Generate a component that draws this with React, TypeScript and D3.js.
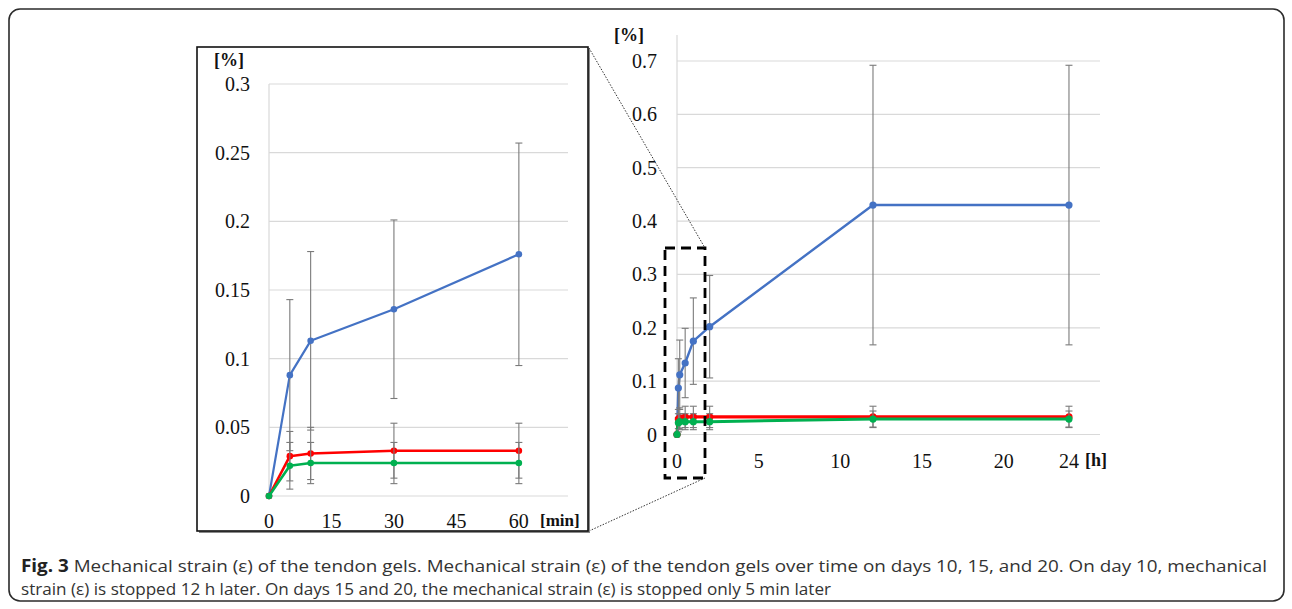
import React from "react";
import * as d3 from "d3";

// ---------- data ----------
const minutes = [0, 5, 10, 30, 60];
const blueMin = [0, 0.088, 0.113, 0.136, 0.176];
const blueMinErr = [0, 0.055, 0.065, 0.065, 0.081];
const redMin = [0, 0.029, 0.031, 0.033, 0.033];
const redMinErr = [0, 0.018, 0.019, 0.02, 0.02];
const greenMin = [0, 0.022, 0.024, 0.024, 0.024];
const greenMinErr = [0, 0.017, 0.015, 0.015, 0.015];

const hours = [0, 0.083, 0.167, 0.5, 1, 2, 12, 24];
const blueH = [0, 0.087, 0.112, 0.134, 0.175, 0.202, 0.43, 0.43];
const blueHErr = [0, 0.055, 0.065, 0.065, 0.081, 0.096, 0.262, 0.262];
const redH = [0, 0.029, 0.031, 0.033, 0.033, 0.033, 0.033, 0.033];
const redHErr = [0, 0.018, 0.019, 0.02, 0.02, 0.02, 0.02, 0.02];
const greenH = [0, 0.022, 0.024, 0.024, 0.024, 0.024, 0.029, 0.029];
const greenHErr = [0, 0.017, 0.015, 0.015, 0.015, 0.015, 0.015, 0.015];

const leftYTicks = [0, 0.05, 0.1, 0.15, 0.2, 0.25, 0.3];
const leftYLabels = ["0", "0.05", "0.1", "0.15", "0.2", "0.25", "0.3"];
const leftXTicks = [0, 15, 30, 45, 60];
const rightYTicks = [0, 0.1, 0.2, 0.3, 0.4, 0.5, 0.6, 0.7];
const rightYLabels = ["0", "0.1", "0.2", "0.3", "0.4", "0.5", "0.6", "0.7"];
const rightXTicks = [0, 5, 10, 15, 20, 24];

const captionBold = "Fig. 3";
const captionLine1 =
  " Mechanical strain (ε) of the tendon gels. Mechanical strain (ε) of the tendon gels over time on days 10, 15, and 20. On day 10, mechanical";
const captionLine2 =
  "strain (ε) is stopped 12 h later. On days 15 and 20, the mechanical strain (ε) is stopped only 5 min later";

const BLUE = "#4472C4";
const RED = "#FF0000";
const GREEN = "#00B050";
const ERR = "#7a7a7a";
const GRID = "#d9d9d9";
const SERIF = "'Liberation Serif', 'Times New Roman', serif";

type Series = { vals: number[]; errs: number[]; color: string; width: number };

function Chart({
  xs,
  series,
  x,
  y,
  r,
}: {
  xs: number[];
  series: Series[];
  x: d3.ScaleLinear<number, number>;
  y: d3.ScaleLinear<number, number>;
  r: number;
}) {
  const cap = 3.5;
  return (
    <g>
      {series.map((s, si) => {
        const line = d3
          .line<number>()
          .x((_, i) => x(xs[i]))
          .y((v) => y(v));
        return (
          <g key={si}>
            <path d={line(s.vals) || ""} fill="none" stroke={s.color} strokeWidth={s.width} strokeLinejoin="round" />
            {s.vals.map((v, i) =>
              s.errs[i] > 0 ? (
                <g key={i} stroke={ERR} strokeWidth={1.1}>
                  <line x1={x(xs[i])} x2={x(xs[i])} y1={y(v + s.errs[i])} y2={y(v - s.errs[i])} />
                  <line x1={x(xs[i]) - cap} x2={x(xs[i]) + cap} y1={y(v + s.errs[i])} y2={y(v + s.errs[i])} />
                  <line x1={x(xs[i]) - cap} x2={x(xs[i]) + cap} y1={y(v - s.errs[i])} y2={y(v - s.errs[i])} />
                </g>
              ) : null
            )}
            {s.vals.map((v, i) => (
              <circle key={"c" + i} cx={x(xs[i])} cy={y(v)} r={r} fill={s.color} />
            ))}
          </g>
        );
      })}
    </g>
  );
}

export default function App() {
  // left (zoomed) chart
  const xL = d3.scaleLinear().domain([0, 71.8]).range([269, 568]);
  const yL = d3.scaleLinear().domain([0, 0.3]).range([496, 84]);
  // right chart
  const xR = d3.scaleLinear().domain([0, 25.9]).range([677, 1100]);
  const yR = d3.scaleLinear().domain([0, 0.7]).range([434.5, 61]);

  const leftSeries: Series[] = [
    { vals: blueMin, errs: blueMinErr, color: BLUE, width: 2.2 },
    { vals: redMin, errs: redMinErr, color: RED, width: 2.6 },
    { vals: greenMin, errs: greenMinErr, color: GREEN, width: 2.6 },
  ];
  const rightSeries: Series[] = [
    { vals: blueH, errs: blueHErr, color: BLUE, width: 2.4 },
    { vals: redH, errs: redHErr, color: RED, width: 3.2 },
    { vals: greenH, errs: greenHErr, color: GREEN, width: 3 },
  ];

  return (
    <svg
      width={1292}
      height={609}
      viewBox="0 0 1292 609"
      style={{ position: "absolute", left: 0, top: 0, background: "#fff" }}
    >
      <rect x={0} y={0} width={1292} height={609} fill="#fff" />
      {/* outer figure frame */}
      <rect x={9} y={9} width={1275} height={592} rx={11} ry={11} fill="none" stroke="#2b2b2b" strokeWidth={1.6} />

      {/* ---------- right chart ---------- */}
      <g>
        {rightYTicks.map((t, i) => (
          <g key={i}>
            <line x1={xR(0)} x2={xR.range()[1]} y1={yR(t)} y2={yR(t)} stroke={GRID} strokeWidth={1.2} />
            <text
              x={657}
              y={yR(t)}
              textAnchor="end"
              dominantBaseline="central"
              fontFamily={SERIF}
              fontSize={20}
              fill="#111"
            >
              {rightYLabels[i]}
            </text>
          </g>
        ))}
        <line x1={xR(0)} x2={xR(0)} y1={35} y2={yR(0)} stroke={GRID} strokeWidth={1.2} />
        {rightXTicks.map((t, i) => (
          <text
            key={i}
            x={xR(t)}
            y={461}
            textAnchor="middle"
            dominantBaseline="central"
            fontFamily={SERIF}
            fontSize={20}
            fill="#111"
          >
            {t}
          </text>
        ))}
        <text x={1085} y={460} dominantBaseline="central" fontFamily={SERIF} fontSize={18} fontWeight="bold" fill="#111">
          [h]
        </text>
        <text x={614} y={41} fontFamily={SERIF} fontSize={18} fontWeight="bold" fill="#111">
          [%]
        </text>
        <Chart xs={hours} series={rightSeries} x={xR} y={yR} r={3.6} />
      </g>

      {/* dashed zoom box */}
      <rect
        x={665}
        y={248}
        width={40}
        height={230}
        fill="none"
        stroke="#000"
        strokeWidth={2.8}
        strokeDasharray="10 6"
      />
      {/* dotted connectors */}
      <line x1={589} y1={48} x2={705} y2={248} stroke="#333" strokeWidth={1} strokeDasharray="1.5 1.5" />
      <line x1={589} y1={531} x2={705} y2={478} stroke="#333" strokeWidth={1} strokeDasharray="1.5 1.5" />

      {/* ---------- left chart ---------- */}
      <g>
        <rect x={199} y={49} width={391} height={484} fill="#8a8a8a" />
        <rect x={197} y={47} width={391} height={484} fill="#fff" stroke="#111" strokeWidth={1.6} />
        {leftYTicks.map((t, i) => (
          <g key={i}>
            <line x1={xL(0)} x2={xL.range()[1]} y1={yL(t)} y2={yL(t)} stroke={GRID} strokeWidth={1.2} />
            <text
              x={250}
              y={yL(t)}
              textAnchor="end"
              dominantBaseline="central"
              fontFamily={SERIF}
              fontSize={20}
              fill="#111"
            >
              {leftYLabels[i]}
            </text>
          </g>
        ))}
        <line x1={xL(0)} x2={xL(0)} y1={yL(0.3)} y2={yL(0)} stroke={GRID} strokeWidth={1.2} />
        {leftXTicks.map((t, i) => (
          <text
            key={i}
            x={xL(t)}
            y={521}
            textAnchor="middle"
            dominantBaseline="central"
            fontFamily={SERIF}
            fontSize={20}
            fill="#111"
          >
            {t}
          </text>
        ))}
        <text x={540} y={520} dominantBaseline="central" fontFamily={SERIF} fontSize={17} fontWeight="bold" fill="#111">
          [min]
        </text>
        <text x={214} y={66} fontFamily={SERIF} fontSize={18} fontWeight="bold" fill="#111">
          [%]
        </text>
        <Chart xs={minutes} series={leftSeries} x={xL} y={yL} r={3.3} />
      </g>

      {/* caption */}
      <text
        x={21}
        y={572}
        fontFamily="'Open Sans', 'Noto Sans', sans-serif"
        fontSize={17}
        fill="#333"
        textLength={1246}
        lengthAdjust="spacingAndGlyphs"
      >
        <tspan fontWeight="bold" fill="#222">
          {captionBold}
        </tspan>
        <tspan>{captionLine1}</tspan>
      </text>
      <text
        x={21}
        y={595}
        fontFamily="'Open Sans', 'Noto Sans', sans-serif"
        fontSize={17}
        fill="#333"
        textLength={810}
        lengthAdjust="spacingAndGlyphs"
      >
        {captionLine2}
      </text>
    </svg>
  );
}
